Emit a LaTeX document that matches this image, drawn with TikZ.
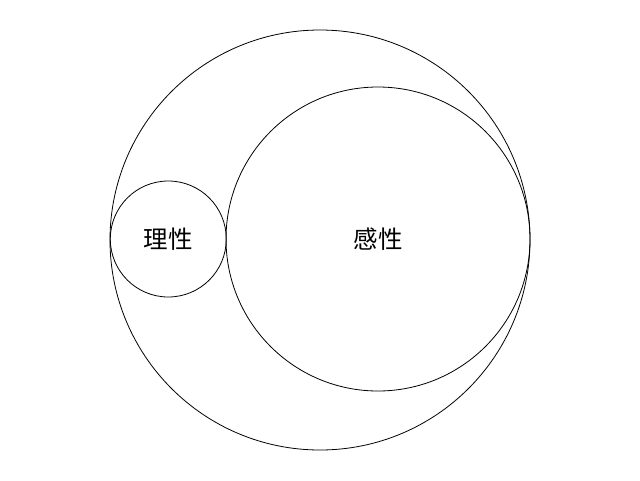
\documentclass[tikz,border=0pt]{standalone}
\usepackage{fontspec}
\newfontfamily\cjk{Noto Sans CJK SC}
\begin{document}
\begin{tikzpicture}[x=1pt,y=-1pt,
  ring/.style={circle,draw=black,line width=0.8pt,inner sep=0pt},
  lbl/.style={font=\cjk\fontsize{24.5}{28}\selectfont}]
\useasboundingbox (0,0) rectangle (640,480);
\node[ring,minimum size=420pt] (big) at (320,240) {};
\node[ring,minimum size=116pt] (reason) at (168.3,239) {};
\node[ring,minimum size=304pt] (sense) at (378,239) {};
\node[lbl] (t1) at (reason.center) {理性};
\node[lbl] (t2) at (sense.center) {感性};
\end{tikzpicture}
\end{document}
